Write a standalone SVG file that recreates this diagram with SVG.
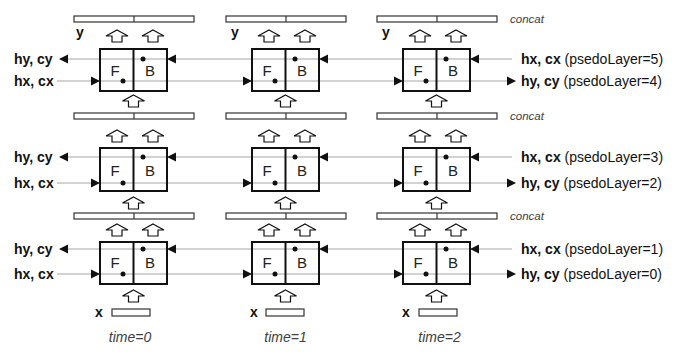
<svg xmlns="http://www.w3.org/2000/svg" xmlns:xlink="http://www.w3.org/1999/xlink" width="689" height="355" viewBox="0 0 689 355">
<style>
text{font-family:"Liberation Sans",Arial,sans-serif;fill:#111}
.lbl{font-size:14px}
.b{font-weight:bold}
.it{font-style:italic;fill:#404040}
.cc{font-size:11.5px;font-style:italic;fill:#404040}
.box{fill:none;stroke:#111;stroke-width:2}
.bar{fill:#fff;stroke:#333;stroke-width:1.2}
.blk{fill:#fff;stroke:#111;stroke-width:1.2;stroke-linejoin:miter}
.ln{stroke:#a6a6a6;stroke-width:1.2;fill:none}
.ah{fill:#111}
.dot{fill:#111}
.fb{font-size:15px;text-anchor:middle;fill:#222}
</style>
<defs>
<path id="ahL" class="ah" d="M0,0 L9,-4.5 L9,4.5 Z"/>
<path id="ahR" class="ah" d="M0,0 L-9,-4.5 L-9,4.5 Z"/>
<path id="up" d="M0,0 L11,6 L5,6 L5,12 L-5,12 L-5,6 L-11,6 Z"/>
</defs>

<!-- connectors -->
<g id="connectors">
  <line class="ln" x1="512" y1="59" x2="60" y2="59"/>
  <line class="ln" x1="57" y1="81" x2="515" y2="81"/>
  <line class="ln" x1="512" y1="157" x2="60" y2="157"/>
  <line class="ln" x1="57" y1="183" x2="515" y2="183"/>
  <line class="ln" x1="512" y1="249" x2="60" y2="249"/>
  <line class="ln" x1="57" y1="274" x2="515" y2="274"/>
  <!-- row 1 arrowheads -->
  <use xlink:href="#ahL" x="59" y="59"/><use xlink:href="#ahL" x="167" y="59"/><use xlink:href="#ahL" x="319" y="59"/><use xlink:href="#ahL" x="470" y="59"/>
  <use xlink:href="#ahR" x="100" y="81"/><use xlink:href="#ahR" x="252" y="81"/><use xlink:href="#ahR" x="403" y="81"/><use xlink:href="#ahR" x="516" y="81"/>
  <!-- row 2 -->
  <use xlink:href="#ahL" x="59" y="157"/><use xlink:href="#ahL" x="167" y="157"/><use xlink:href="#ahL" x="319" y="157"/><use xlink:href="#ahL" x="470" y="157"/>
  <use xlink:href="#ahR" x="100" y="183"/><use xlink:href="#ahR" x="252" y="183"/><use xlink:href="#ahR" x="403" y="183"/><use xlink:href="#ahR" x="516" y="183"/>
  <!-- row 3 -->
  <use xlink:href="#ahL" x="59" y="249"/><use xlink:href="#ahL" x="167" y="249"/><use xlink:href="#ahL" x="319" y="249"/><use xlink:href="#ahL" x="470" y="249"/>
  <use xlink:href="#ahR" x="100" y="274"/><use xlink:href="#ahR" x="252" y="274"/><use xlink:href="#ahR" x="403" y="274"/><use xlink:href="#ahR" x="516" y="274"/>
  <!-- block arrows -->
  <g class="blk">
    <use xlink:href="#up" x="117" y="30"/><use xlink:href="#up" x="153" y="30"/>
    <use xlink:href="#up" x="269" y="30"/><use xlink:href="#up" x="305" y="30"/>
    <use xlink:href="#up" x="420" y="30"/><use xlink:href="#up" x="456" y="30"/>
    <use xlink:href="#up" x="133.5" y="95"/><use xlink:href="#up" x="285.5" y="95"/><use xlink:href="#up" x="436.5" y="95"/>
    <use xlink:href="#up" x="117" y="130"/><use xlink:href="#up" x="153" y="130"/>
    <use xlink:href="#up" x="269" y="130"/><use xlink:href="#up" x="305" y="130"/>
    <use xlink:href="#up" x="420" y="130"/><use xlink:href="#up" x="456" y="130"/>
    <use xlink:href="#up" x="133.5" y="197"/><use xlink:href="#up" x="285.5" y="197"/><use xlink:href="#up" x="436.5" y="197"/>
    <use xlink:href="#up" x="117" y="224"/><use xlink:href="#up" x="153" y="224"/>
    <use xlink:href="#up" x="269" y="224"/><use xlink:href="#up" x="305" y="224"/>
    <use xlink:href="#up" x="420" y="224"/><use xlink:href="#up" x="456" y="224"/>
    <use xlink:href="#up" x="133.5" y="290"/><use xlink:href="#up" x="285.5" y="290"/><use xlink:href="#up" x="436.5" y="290"/>
  </g>
</g>

<!-- concat bars -->
<g id="bars">
  <g id="bar-top"><rect class="bar" x="74" y="16" width="120" height="6"/><line class="bar" x1="134" y1="16" x2="134" y2="22"/>
    <rect class="bar" x="226" y="16" width="120" height="6"/><line class="bar" x1="286" y1="16" x2="286" y2="22"/>
    <rect class="bar" x="377" y="16" width="120" height="6"/><line class="bar" x1="437" y1="16" x2="437" y2="22"/>
    <text class="cc" x="510" y="23">concat</text></g>
  <g id="bar-mid1"><rect class="bar" x="74" y="113" width="120" height="6"/><line class="bar" x1="134" y1="113" x2="134" y2="119"/>
    <rect class="bar" x="226" y="113" width="120" height="6"/><line class="bar" x1="286" y1="113" x2="286" y2="119"/>
    <rect class="bar" x="377" y="113" width="120" height="6"/><line class="bar" x1="437" y1="113" x2="437" y2="119"/>
    <text class="cc" x="510" y="120">concat</text></g>
  <g id="bar-mid2"><rect class="bar" x="74" y="213" width="120" height="6"/><line class="bar" x1="134" y1="213" x2="134" y2="219"/>
    <rect class="bar" x="226" y="213" width="120" height="6"/><line class="bar" x1="286" y1="213" x2="286" y2="219"/>
    <rect class="bar" x="377" y="213" width="120" height="6"/><line class="bar" x1="437" y1="213" x2="437" y2="219"/>
    <text class="cc" x="510" y="220">concat</text></g>
  <g id="x-bars"><rect class="bar" x="112" y="309" width="38" height="7"/>
    <rect class="bar" x="266" y="309" width="38" height="7"/>
    <rect class="bar" x="419" y="309" width="38" height="7"/></g>
</g>

<!-- cells -->
<g id="cell-1-1"><rect class="box" x="100" y="49" width="67" height="42"/><line class="box" x1="133.5" y1="49" x2="133.5" y2="91"/><circle class="dot" cx="143" cy="59" r="2.5"/><circle class="dot" cx="123" cy="81" r="2.5"/><text class="fb" x="115" y="76">F</text><text class="fb" x="150" y="76">B</text></g>
<g id="cell-1-2"><rect class="box" x="252" y="49" width="67" height="42"/><line class="box" x1="285.5" y1="49" x2="285.5" y2="91"/><circle class="dot" cx="295" cy="59" r="2.5"/><circle class="dot" cx="275" cy="81" r="2.5"/><text class="fb" x="267" y="76">F</text><text class="fb" x="302" y="76">B</text></g>
<g id="cell-1-3"><rect class="box" x="403" y="49" width="67" height="42"/><line class="box" x1="436.5" y1="49" x2="436.5" y2="91"/><circle class="dot" cx="446" cy="59" r="2.5"/><circle class="dot" cx="426" cy="81" r="2.5"/><text class="fb" x="418" y="76">F</text><text class="fb" x="453" y="76">B</text></g>

<g id="cell-2-1"><rect class="box" x="100" y="148" width="67" height="43"/><line class="box" x1="133.5" y1="148" x2="133.5" y2="191"/><circle class="dot" cx="143" cy="157" r="2.5"/><circle class="dot" cx="123" cy="183" r="2.5"/><text class="fb" x="115" y="176">F</text><text class="fb" x="150" y="176">B</text></g>
<g id="cell-2-2"><rect class="box" x="252" y="148" width="67" height="43"/><line class="box" x1="285.5" y1="148" x2="285.5" y2="191"/><circle class="dot" cx="295" cy="157" r="2.5"/><circle class="dot" cx="275" cy="183" r="2.5"/><text class="fb" x="267" y="176">F</text><text class="fb" x="302" y="176">B</text></g>
<g id="cell-2-3"><rect class="box" x="403" y="148" width="67" height="43"/><line class="box" x1="436.5" y1="148" x2="436.5" y2="191"/><circle class="dot" cx="446" cy="157" r="2.5"/><circle class="dot" cx="426" cy="183" r="2.5"/><text class="fb" x="418" y="176">F</text><text class="fb" x="453" y="176">B</text></g>

<g id="cell-3-1"><rect class="box" x="100" y="242" width="67" height="42"/><line class="box" x1="133.5" y1="242" x2="133.5" y2="284"/><circle class="dot" cx="143" cy="249" r="2.5"/><circle class="dot" cx="123" cy="274" r="2.5"/><text class="fb" x="115" y="268">F</text><text class="fb" x="150" y="268">B</text></g>
<g id="cell-3-2"><rect class="box" x="252" y="242" width="67" height="42"/><line class="box" x1="285.5" y1="242" x2="285.5" y2="284"/><circle class="dot" cx="295" cy="249" r="2.5"/><circle class="dot" cx="275" cy="274" r="2.5"/><text class="fb" x="267" y="268">F</text><text class="fb" x="302" y="268">B</text></g>
<g id="cell-3-3"><rect class="box" x="403" y="242" width="67" height="42"/><line class="box" x1="436.5" y1="242" x2="436.5" y2="284"/><circle class="dot" cx="446" cy="249" r="2.5"/><circle class="dot" cx="426" cy="274" r="2.5"/><text class="fb" x="418" y="268">F</text><text class="fb" x="453" y="268">B</text></g>

<!-- labels -->
<g id="labels" class="lbl">
  <text class="lbl b" x="14" y="64">hy, cy</text>
  <text class="lbl b" x="14" y="86">hx, cx</text>
  <text class="lbl b" x="14" y="162">hy, cy</text>
  <text class="lbl b" x="14" y="188">hx, cx</text>
  <text class="lbl b" x="14" y="254">hy, cy</text>
  <text class="lbl b" x="14" y="279">hx, cx</text>

  <text class="lbl" x="521" y="64"><tspan class="b">hx, cx</tspan> (psedoLayer=5)</text>
  <text class="lbl" x="521" y="86"><tspan class="b">hy, cy</tspan> (psedoLayer=4)</text>
  <text class="lbl" x="521" y="162"><tspan class="b">hx, cx</tspan> (psedoLayer=3)</text>
  <text class="lbl" x="521" y="188"><tspan class="b">hy, cy</tspan> (psedoLayer=2)</text>
  <text class="lbl" x="521" y="254"><tspan class="b">hx, cx</tspan> (psedoLayer=1)</text>
  <text class="lbl" x="521" y="279"><tspan class="b">hy, cy</tspan> (psedoLayer=0)</text>

  <text class="lbl b" x="80" y="37" text-anchor="middle">y</text>
  <text class="lbl b" x="235" y="37" text-anchor="middle">y</text>
  <text class="lbl b" x="386" y="37" text-anchor="middle">y</text>

  <text class="lbl b" x="99" y="317" text-anchor="middle">x</text>
  <text class="lbl b" x="254" y="317" text-anchor="middle">x</text>
  <text class="lbl b" x="406" y="317" text-anchor="middle">x</text>

  <text class="lbl it" x="130" y="342" text-anchor="middle">time=0</text>
  <text class="lbl it" x="285.5" y="342" text-anchor="middle">time=1</text>
  <text class="lbl it" x="439.5" y="342" text-anchor="middle">time=2</text>
</g>
</svg>
